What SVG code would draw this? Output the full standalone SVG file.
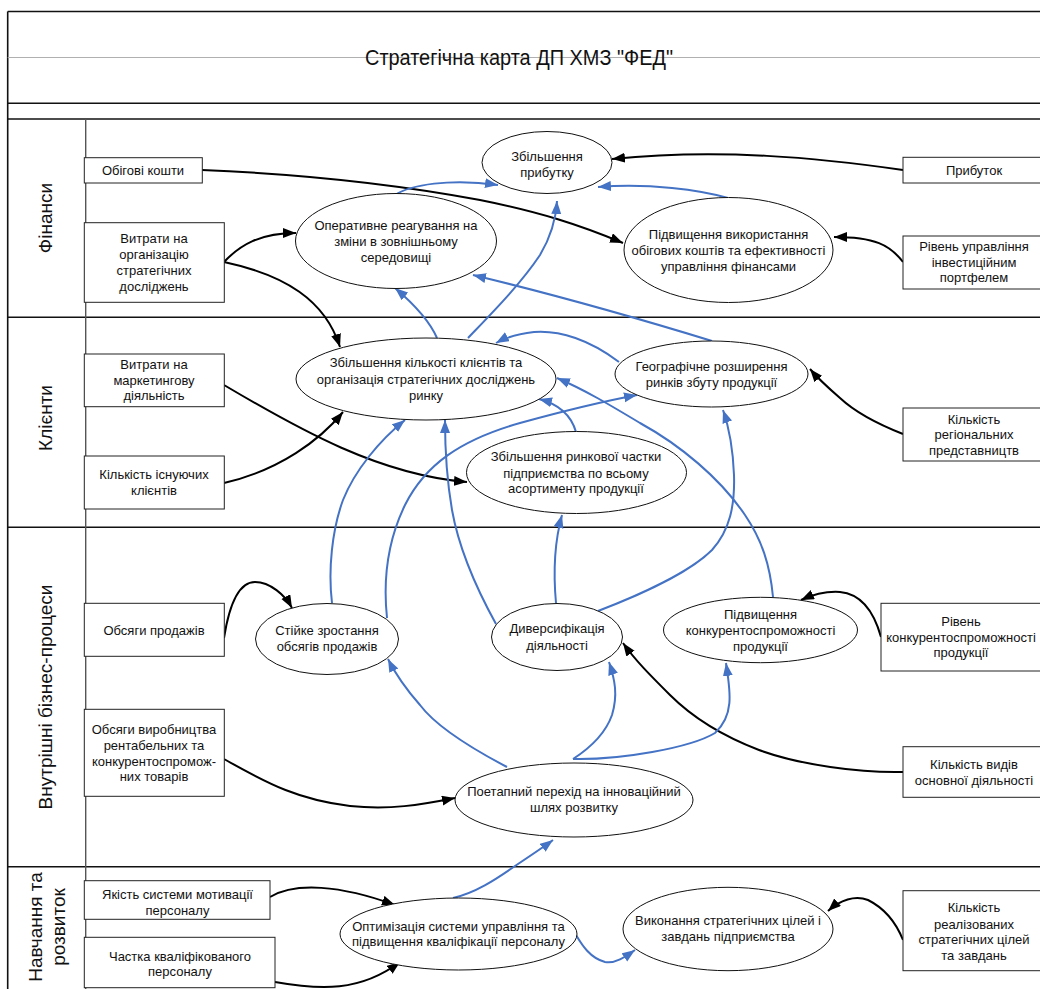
<svg xmlns="http://www.w3.org/2000/svg" width="1040" height="989" viewBox="0 0 1040 989">
<defs>
<style>
text{font-family:"Liberation Sans",Arial,sans-serif;font-size:13px;fill:#111;text-anchor:middle}
.lane{font-size:19px}
.title{font-size:22px}
.box{fill:#fff;stroke:#222;stroke-width:1}
.ell{fill:#fff;stroke:#111;stroke-width:1}
.frame{stroke:#111;stroke-width:1.6;fill:none}
.k{fill:none;stroke:#000;stroke-width:2;marker-end:url(#ak)}
.b{fill:none;stroke:#4472C4;stroke-width:2;marker-end:url(#ab)}
</style>
<marker id="ak" markerUnits="userSpaceOnUse" markerWidth="14" markerHeight="11" refX="13" refY="5" orient="auto"><path d="M0,0 L13,5 L0,10 z" fill="#000"/></marker>
<marker id="ab" markerUnits="userSpaceOnUse" markerWidth="14" markerHeight="11" refX="13" refY="5" orient="auto"><path d="M0,0 L13,5 L0,10 z" fill="#4472C4"/></marker>
</defs>
<rect width="1040" height="989" fill="#fff"/>
<g id="frame">
<line x1="7.7" y1="11.5" x2="1040" y2="11.5" class="frame"/>
<line x1="7.7" y1="11.5" x2="7.7" y2="989" class="frame"/>
<line x1="7.7" y1="57.5" x2="1040" y2="57.5" stroke="#b0b0b0" stroke-width="1"/>
<line x1="7.7" y1="103.3" x2="1040" y2="103.3" class="frame"/>
<line x1="7.7" y1="119" x2="1040" y2="119" class="frame"/>
<line x1="7.7" y1="317.3" x2="1040" y2="317.3" class="frame"/>
<line x1="7.7" y1="527.3" x2="1040" y2="527.3" class="frame"/>
<line x1="7.7" y1="866.7" x2="1040" y2="866.7" class="frame"/>
<line x1="85.7" y1="119" x2="85.7" y2="989" stroke="#555" stroke-width="1.4"/>
<text class="title" x="519" y="65" textLength="308" lengthAdjust="spacingAndGlyphs">Стратегічна карта ДП ХМЗ "ФЕД"</text>
<text class="lane" transform="translate(52,218) rotate(-90)">Фінанси</text>
<text class="lane" transform="translate(52,418) rotate(-90)">Клієнти</text>
<text class="lane" transform="translate(52,697) rotate(-90)">Внутрішні бізнес-процеси</text>
<text class="lane" transform="translate(42,927) rotate(-90)">Навчання та</text>
<text class="lane" transform="translate(65,927) rotate(-90)">розвиток</text>
</g>
<g id="connectors">
<path class="k" d="M202,170 C300,174 400,185 480,200 C540,212 580,225 623,243"/>
<path class="k" d="M903,170 C820,158 720,148 612,159"/>
<path class="k" d="M903,262 C890,245 875,237 834,237"/>
<path class="k" d="M224,262 C240,245 260,233 296,233"/>
<path class="k" d="M224,262 C285,275 325,300 340,347"/>
<path class="k" d="M224,385 C300,430 380,475 467,482"/>
<path class="k" d="M224,483 C280,470 320,440 343,412"/>
<path class="k" d="M224,638 C230,600 240,582 255,582 C270,582 285,595 292,608"/>
<path class="k" d="M224,759 C270,785 300,800 350,806 C390,810 420,805 455,798"/>
<path class="k" d="M903,772 C860,773 800,765 759,750 C720,735 690,715 670,695 C650,675 635,660 623,643"/>
<path class="k" d="M881,637 C874,612 862,594 840,592 C825,591 812,595 801,600"/>
<path class="k" d="M903,434 C875,423 855,412 840,398 C825,385 815,375 810,369"/>
<path class="k" d="M270,897 C295,882 340,885 395,905"/>
<path class="k" d="M275,982 C320,990 360,992 400,962"/>
<path class="k" d="M903,940 C895,920 884,908 868,900 C855,895 840,900 828,911"/>
<path class="b" d="M395,195 C410,185 450,178 498,185"/>
<path class="b" d="M728,198 C700,190 650,183 598,187"/>
<path class="b" d="M437,338 C430,322 415,305 395,288"/>
<path class="b" d="M468,338 C490,315 520,285 540,255 C552,235 556,218 557,201"/>
<path class="b" d="M712,341 C650,322 560,296 473,275"/>
<path class="b" d="M619,362 C590,340 560,330 534,332 C515,334 505,338 496,343"/>
<path class="b" d="M576,432 C572,418 562,405 539,399"/>
<path class="b" d="M332,603 C328,570 332,530 343,500 C355,470 380,440 405,420"/>
<path class="b" d="M387,618 C383,580 388,540 405,505 C425,465 460,440 520,423 C560,412 600,402 637,395"/>
<path class="b" d="M496,624 C480,595 460,555 452,510 C446,475 445,445 445,420"/>
<path class="b" d="M556,603 C553,570 555,540 562,515"/>
<path class="b" d="M598,611 C640,595 690,572 712,550 C730,530 735,505 734,475 C733,450 730,430 723,410"/>
<path class="b" d="M773,597 C770,565 762,540 745,515 C720,478 680,445 640,423 C610,405 585,390 557,378"/>
<path class="b" d="M507,767 C465,745 435,725 420,705 C405,688 395,673 388,659"/>
<path class="b" d="M573,759 C590,748 605,735 612,715 C618,695 615,680 609,662"/>
<path class="b" d="M573,759 C620,760 690,748 715,733 C735,715 730,690 726,663"/>
<path class="b" d="M453,898 C475,893 495,880 515,866 C530,856 545,846 553,840"/>
<path class="b" d="M576,935 C582,945 590,958 605,962 C615,964 625,957 635,950"/>
</g>
<g id="n-obigovi"><rect class="box" x="84.3" y="157.7" width="118" height="25.3"/><text x="143" y="174.5">Обігові кошти</text></g>
<g id="n-vytraty-doslidzhen"><rect class="box" x="84.3" y="222.7" width="140" height="79.6"/><text x="154" y="242.5">Витрати на</text><text x="154" y="258.5">організацію</text><text x="154" y="274.5">стратегічних</text><text x="154" y="290.5">досліджень</text></g>
<g id="n-prybutok"><rect class="box" x="903" y="157.3" width="140" height="25.7"/><text x="974" y="174.5">Прибуток</text></g>
<g id="n-riven-upr"><rect class="box" x="903" y="236" width="140" height="53"/><text x="974" y="250.5">Рівень управління</text><text x="974" y="266.5">інвестиційним</text><text x="974" y="282">портфелем</text></g>
<g id="n-vytraty-market"><rect class="box" x="84.3" y="354" width="140" height="52.7"/><text x="154" y="368.8">Витрати на</text><text x="154" y="384.5">маркетингову</text><text x="154" y="400.2">діяльність</text></g>
<g id="n-kilkist-kl"><rect class="box" x="84.3" y="456" width="140" height="53"/><text x="154" y="478.8">Кількість існуючих</text><text x="154" y="495.2">клієнтів</text></g>
<g id="n-kilkist-reg"><rect class="box" x="903" y="408" width="140" height="53"/><text x="974" y="423.5">Кількість</text><text x="974" y="438.8">регіональних</text><text x="974" y="454.5">представництв</text></g>
<g id="n-obsyagy-prod"><rect class="box" x="84.3" y="603.3" width="140" height="53"/><text x="154" y="634.5">Обсяги продажів</text></g>
<g id="n-obsyagy-vyr"><rect class="box" x="84.3" y="709.3" width="140" height="87"/><text x="154" y="733.8">Обсяги виробництва</text><text x="154" y="749.5">рентабельних та</text><text x="154" y="765.5">конкурентоспромож-</text><text x="154" y="780.5">них товарів</text></g>
<g id="n-riven-konk"><rect class="box" x="881" y="603.3" width="162" height="67.7"/><text x="961" y="626.2">Рівень</text><text x="961" y="641.8">конкурентоспроможності</text><text x="961" y="657.2">продукції</text></g>
<g id="n-kilkist-vydiv"><rect class="box" x="903" y="746.7" width="140" height="50.6"/><text x="974" y="768.5">Кількість видів</text><text x="974" y="784.5">основної діяльності</text></g>
<g id="n-yakist"><rect class="box" x="84.3" y="880.7" width="185.7" height="38.6"/><text x="177.5" y="898.8">Якість системи мотивації</text><text x="177.5" y="914.5">персоналу</text></g>
<g id="n-chastka"><rect class="box" x="84.3" y="937.3" width="190.7" height="50.4"/><text x="180" y="961.2">Частка кваліфікованого</text><text x="180" y="976.2">персоналу</text></g>
<g id="n-kilkist-real"><rect class="box" x="903" y="890.7" width="140" height="80"/><text x="974" y="911.8">Кількість</text><text x="974" y="928.5">реалізованих</text><text x="974" y="943.8">стратегічних цілей</text><text x="974" y="959.5">та завдань</text></g>
<g id="e-prybutok"><ellipse class="ell" cx="547" cy="162.5" rx="65" ry="31"/><text x="547" y="160.5">Збільшення</text><text x="547" y="177">прибутку</text></g>
<g id="e-operatyvne"><ellipse class="ell" cx="396" cy="241" rx="100.5" ry="47.5"/><text x="396" y="229.5">Оперативне реагування на</text><text x="396" y="245.5">зміни в зовнішньому</text><text x="396" y="261.5">середовищі</text></g>
<g id="e-obigovi"><ellipse class="ell" cx="728.5" cy="250" rx="104.5" ry="52.5"/><text x="728.5" y="238.5">Підвищення використання</text><text x="728.5" y="254.5">обігових коштів та ефективності</text><text x="728.5" y="270.5">управління фінансами</text></g>
<g id="e-klienty"><ellipse class="ell" cx="426" cy="379" rx="130" ry="41"/><text x="426" y="367.3">Збільшення кількості клієнтів та</text><text x="426" y="383.8">організація стратегічних досліджень</text><text x="426" y="399.8">ринку</text></g>
<g id="e-geo"><ellipse class="ell" cx="711.5" cy="374" rx="96.5" ry="33"/><text x="711.5" y="370.5">Географічне розширення</text><text x="711.5" y="387">ринків збуту продукції</text></g>
<g id="e-chastka"><ellipse class="ell" cx="576.5" cy="472.5" rx="110" ry="41"/><text x="576" y="461.2">Збільшення ринкової частки</text><text x="576" y="477.8">підприємства по всьому</text><text x="576" y="492.8">асортименту продукції</text></g>
<g id="e-stiyke"><ellipse class="ell" cx="327" cy="639" rx="71.5" ry="35.5"/><text x="327" y="635.2">Стійке зростання</text><text x="327" y="651.2">обсягів продажів</text></g>
<g id="e-dyvers"><ellipse class="ell" cx="557" cy="637" rx="65.5" ry="33.5"/><text x="557" y="632.8">Диверсифікація</text><text x="557" y="649.5">діяльності</text></g>
<g id="e-konk"><ellipse class="ell" cx="760.5" cy="630" rx="97" ry="32.7"/><text x="760.5" y="618.5">Підвищення</text><text x="760.5" y="634.5">конкурентоспроможності</text><text x="760.5" y="650.5">продукції</text></g>
<g id="e-poetapnyi"><ellipse class="ell" cx="574" cy="800" rx="119" ry="37"/><text x="574" y="796.2">Поетапний перехід на інноваційний</text><text x="574" y="811.8">шлях розвитку</text></g>
<g id="e-optym"><ellipse class="ell" cx="458.5" cy="934" rx="118.5" ry="36"/><text x="458.5" y="931.2">Оптимізація системи управління та</text><text x="458.5" y="946.2">підвищення кваліфікації персоналу</text></g>
<g id="e-vykonannya"><ellipse class="ell" cx="728" cy="929" rx="105" ry="41.7"/><text x="728" y="924.5">Виконання стратегічних цілей і</text><text x="728" y="940.5">завдань підприємства</text></g>
</svg>
